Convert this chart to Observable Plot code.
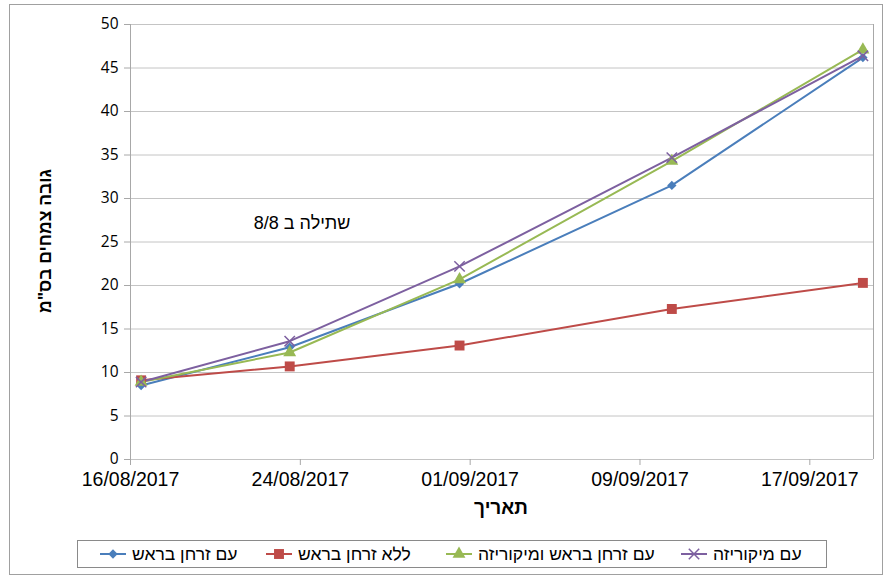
<!DOCTYPE html>
<html>
<head>
<meta charset="utf-8">
<script src="https://cdn.jsdelivr.net/npm/d3@7"></script>
<script src="https://cdn.jsdelivr.net/npm/@observablehq/plot@0.6"></script>
<style>
  body { margin: 0; background: #fff; }
  #wrap { position: relative; width: 890px; height: 579px; overflow: hidden; font-family: "Liberation Sans", Arial, sans-serif; }
  #frame { position: absolute; left: 9px; top: 4px; width: 874px; height: 571px; border: 1px solid #a0a0a0; box-sizing: border-box; }
  #chart { position: absolute; left: 0; top: 0; }
  #ylabel { position: absolute; left: 45px; top: 241px; transform: translate(-50%, -50%) rotate(-90deg); font-weight: bold; font-size: 17.5px; direction: rtl; white-space: nowrap; color: #000; }
  #xlabel { position: absolute; left: 501px; top: 508px; transform: translate(-50%, -50%); font-weight: bold; font-size: 19px; direction: rtl; color: #000; }
  #legend { position: absolute; left: 77px; top: 540px; width: 750px; height: 28px; border: 1px solid #8a8a8a; box-sizing: border-box; }
  .item { position: absolute; top: 3px; display: flex; align-items: center; height: 20px; font-size: 17.5px; }
  .item span { direction: rtl; margin-left: 4px; }
  svg text { fill: #000; }
  g[aria-label="y-axis tick label"] text { font-family: "Open Sans", sans-serif; font-size: 15.5px; }
  g[aria-label="x-axis tick label"] text { font-family: "Liberation Sans", Arial, sans-serif; font-size: 19.5px; }
</style>
</head>
<body>
<div id="wrap">
  <div id="frame"></div>
  <div id="chart"></div>
  <div id="ylabel"></div>
  <div id="xlabel"></div>
  <div id="legend"></div>
</div>
<script>
// ---- data ----
const dates = ["2017-08-16", "2017-08-23", "2017-08-31", "2017-09-10", "2017-09-19"];
const seriesNames = ["עם זרחן בראש", "ללא זרחן בראש", "עם זרחן בראש ומיקוריזה", "עם מיקוריזה"];
const withPhosphorus = [8.5, 12.9, 20.2, 31.5, 46.2];
const noPhosphorus = [9.1, 10.7, 13.1, 17.3, 20.3];
const phosphorusMycorrhiza = [8.9, 12.3, 20.7, 34.3, 47.1];
const mycorrhiza = [8.9, 13.6, 22.2, 34.7, 46.4];
const xTickLabels = ["2017-08-16", "2017-08-24", "2017-09-01", "2017-09-09", "2017-09-17"];
const yTicks = [0, 5, 10, 15, 20, 25, 30, 35, 40, 45, 50];
const xDomain = ["2017-08-16", "2017-09-20"];
const yTitle = "גובה צמחים בס\"מ";
const xTitle = "תאריך";
const note = "שתילה ב 8/8";
const noteAt = {date: "2017-08-24T02:00:00Z", value: 27.2};

// ---- styling ----
const colors = ["#4A7EBB", "#BE4B48", "#98B954", "#7D60A0"];
const symbols = ["diamond2", "square", "triangle", "times"];
const radii = [4.2, 5.6, 4.8, 4.8];

const values = [withPhosphorus, noPhosphorus, phosphorusMycorrhiza, mycorrhiza];
const table = seriesNames.flatMap((name, i) =>
  values[i].map((v, j) => ({series: name, idx: i, date: new Date(dates[j] + "T12:00:00Z"), value: v}))
);
const font = "'Liberation Sans', Arial, sans-serif";
const x0 = new Date(xDomain[0] + "T00:00:00Z"), x1 = new Date(xDomain[1] + "T00:00:00Z");

const marks = [
  Plot.gridY(yTicks, {stroke: "#c4c4c4", strokeOpacity: 1, strokeWidth: 1}),
  Plot.ruleX([x0], {stroke: "#a8a8a8", strokeWidth: 1}),
  Plot.ruleX([x1], {stroke: "#a8a8a8", strokeWidth: 1}),
  Plot.axisX({
    ticks: xTickLabels.map(d => new Date(d + "T00:00:00Z")),
    tickFormat: d3.utcFormat("%d/%m/%Y"),
    tickSize: 6, tickPadding: 7, stroke: "#a8a8a8", label: null
  }),
  Plot.axisY({
    ticks: yTicks, tickSize: 6, tickPadding: 6, stroke: "#a8a8a8", label: null
  })
];
seriesNames.forEach((name, i) => {
  const d = table.filter(r => r.idx === i);
  marks.push(Plot.line(d, {x: "date", y: "value", stroke: colors[i], strokeWidth: 2}));
});
seriesNames.forEach((name, i) => {
  const d = table.filter(r => r.idx === i);
  if (symbols[i] === "times") {
    marks.push(Plot.dot(d, {x: "date", y: "value", symbol: symbols[i], r: radii[i], stroke: colors[i], strokeWidth: 1.5, fill: "none"}));
  } else {
    marks.push(Plot.dot(d, {x: "date", y: "value", symbol: symbols[i], r: radii[i], fill: colors[i], stroke: "none"}));
  }
});
marks.push(Plot.text([note], {
  x: () => new Date(noteAt.date), y: () => noteAt.value, text: d => d,
  fontSize: 18, fontFamily: font, fill: "#000"
}));

const chart = Plot.plot({
  width: 890, height: 579,
  marginLeft: 130, marginRight: 17, marginTop: 24, marginBottom: 120,
  x: {type: "utc", domain: [x0, x1]},
  y: {domain: [0, 50]},
  style: {fontFamily: font, background: "transparent", overflow: "visible"},
  marks
});
document.getElementById("chart").appendChild(chart);
document.getElementById("ylabel").textContent = yTitle;
document.getElementById("xlabel").textContent = xTitle;

// ---- legend ----
const legend = document.getElementById("legend");
const itemLeft = [20, 186, 366, 601];
const symbolMap = {diamond2: d3.symbolDiamond2, square: d3.symbolSquare, triangle: d3.symbolTriangle, times: d3.symbolTimes};
seriesNames.forEach((name, i) => {
  const item = document.createElement("div");
  item.className = "item";
  item.style.left = itemLeft[i] + "px";
  const s = d3.create("svg").attr("width", 30).attr("height", 20);
  s.append("line").attr("x1", 2).attr("x2", 28).attr("y1", 10).attr("y2", 10).attr("stroke", colors[i]).attr("stroke-width", 2);
  const area = Math.PI * radii[i] * radii[i];
  const p = s.append("path").attr("transform", "translate(15,10)").attr("d", d3.symbol(symbolMap[symbols[i]], area)());
  if (symbols[i] === "times") p.attr("fill", "none").attr("stroke", colors[i]).attr("stroke-width", 1.5);
  else p.attr("fill", colors[i]);
  item.appendChild(s.node());
  const t = document.createElement("span");
  t.textContent = name;
  item.appendChild(t);
  legend.appendChild(item);
});
</script>
</body>
</html>
